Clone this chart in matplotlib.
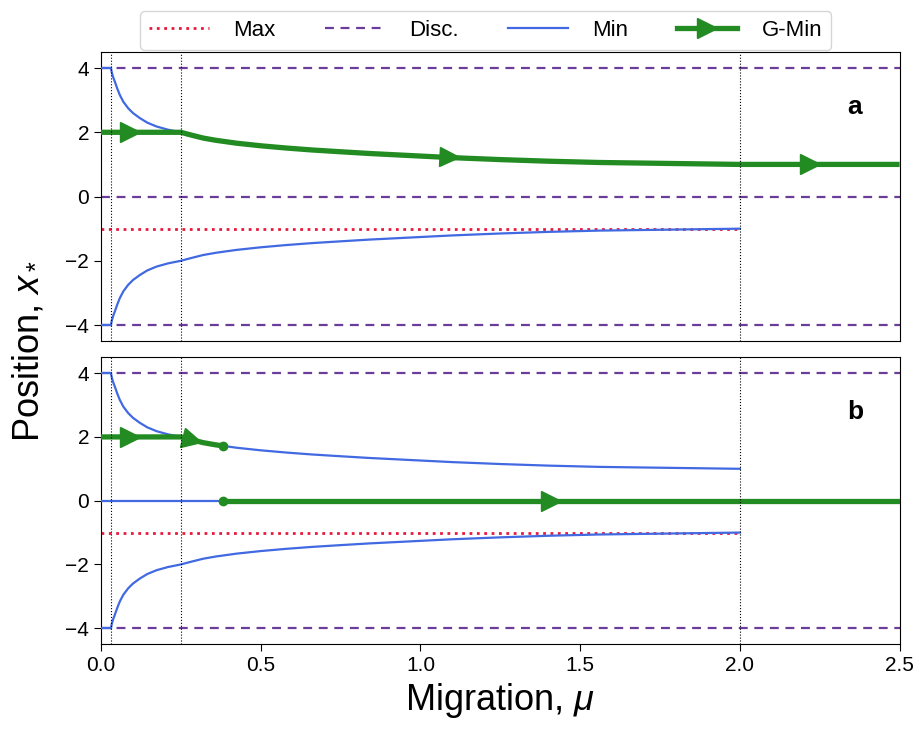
import numpy as np
import matplotlib
matplotlib.use("Agg")
import matplotlib.pyplot as plt
from matplotlib.lines import Line2D
from matplotlib.markers import MarkerStyle
from matplotlib.transforms import Affine2D

plt.rcParams['font.family'] = ['Liberation Sans', 'DejaVu Sans']
plt.rcParams['mathtext.fontset'] = 'custom'
plt.rcParams['mathtext.rm'] = 'Liberation Sans'
plt.rcParams['mathtext.it'] = 'Liberation Sans:italic'

# ---- data ----
mu_curve = [0.031, 0.034, 0.038, 0.044, 0.051, 0.059, 0.070, 0.085, 0.100, 0.122, 0.145, 0.174,
            0.21, 0.25, 0.28, 0.32, 0.36, 0.425, 0.50, 0.58, 0.66, 0.74, 0.84, 0.94, 1.1,
            1.25, 1.4, 1.56, 1.78, 2.0]
x_curve = [4.0, 3.86, 3.72, 3.56, 3.36, 3.16, 2.95, 2.75, 2.60, 2.44, 2.30, 2.18,
           2.08, 2.0, 1.92, 1.82, 1.75, 1.66, 1.58, 1.51, 1.45, 1.40, 1.34, 1.29, 1.21,
           1.15, 1.10, 1.06, 1.03, 1.0]
mu_start = 0.031        # first threshold (blue leaves the boundary)
mu_mid = 0.25           # second threshold
mu_end = 2.0            # third threshold
mu_max = 2.5
x_disc = [4, 0, -4]
x_max = -1.0
x_plateau = 2.0
mu_bif = 0.383          # panel b jump point
x_bif = 1.72
arrows_a = [(0.09, 2.0), (1.09, 1.22), (2.22, 1.0)]
arrows_b_upper = [(0.09, 2.0), (0.284, 1.91)]
arrows_b_lower = [(1.41, 0.0)]

RED = '#e8193c'
PURPLE = '#6a3d9a'
BLUE = '#4169e1'
GREEN = '#228b22'

fig = plt.figure(figsize=(9.18, 7.32), dpi=100)
ax_a = fig.add_axes([0.110, 0.534, 0.870, 0.395])
ax_b = fig.add_axes([0.110, 0.120, 0.870, 0.392], sharex=ax_a)

mu_c = np.array(mu_curve)
x_c = np.array(x_curve)


def draw_arrows(ax, pts, path_x, path_y):
    px = np.array(path_x, float)
    py = np.array(path_y, float)
    for (xa, ya) in pts:
        i = np.searchsorted(px, xa)
        i = min(max(i, 1), len(px) - 1)
        p0 = ax.transData.transform((px[i - 1], py[i - 1]))
        p1 = ax.transData.transform((px[i], py[i]))
        ang = np.degrees(np.arctan2(p1[1] - p0[1], p1[0] - p0[0]))
        m = MarkerStyle('>', transform=Affine2D().rotate_deg(ang))
        ax.plot([xa], [ya], marker=m, ms=14, color=GREEN, mec=GREEN, ls='none', zorder=6)


for ax in (ax_a, ax_b):
    ax.set_xlim(0, mu_max)
    ax.set_ylim(-4.5, 4.5)
    ax.set_yticks([-4, -2, 0, 2, 4])
    ax.tick_params(labelsize=15, direction='out', length=5)
    for v in (mu_start, mu_mid, mu_end):
        ax.axvline(v, color='black', ls=':', lw=0.8, zorder=7)
    ax.plot([0, mu_end], [x_max, x_max], color=RED, ls=':', lw=2, zorder=2)
    # blue minima branches
    ax.plot([0, mu_start], [4, 4], color=BLUE, lw=1.6, zorder=3)
    ax.plot([0, mu_start], [-4, -4], color=BLUE, lw=1.6, zorder=3)
    ax.plot(mu_c, x_c, color=BLUE, lw=1.6, zorder=3)
    ax.plot(mu_c, -x_c, color=BLUE, lw=1.6, zorder=3)

# panel a
for xd in x_disc:
    ax_a.plot([0, mu_max], [xd, xd], color=PURPLE, ls='--', lw=1.6, dashes=(4, 3), zorder=1)
ga_x = [0] + [m for m in mu_curve if m >= mu_mid] + [mu_max]
ga_y = [x_plateau] + [x for m, x in zip(mu_curve, x_curve) if m >= mu_mid] + [x_curve[-1]]
ax_a.plot(ga_x, ga_y, color=GREEN, lw=3.8, zorder=5, solid_capstyle='butt')
ax_a.tick_params(labelbottom=False, bottom=False)
ax_a.text(0.944, 0.81, 'a', transform=ax_a.transAxes, fontsize=19, fontweight='bold',
          ha='center', va='center')

# panel b
for xd in (x_disc[0], x_disc[2]):
    ax_b.plot([0, mu_max], [xd, xd], color=PURPLE, ls='--', lw=1.6, dashes=(4, 3), zorder=1)
ax_b.plot([0, mu_bif], [0, 0], color=BLUE, lw=1.6, zorder=3)
gb_x = [0] + [m for m in mu_curve if mu_mid <= m < mu_bif] + [mu_bif]
gb_y = [x_plateau] + [x for m, x in zip(mu_curve, x_curve) if mu_mid <= m < mu_bif] + [x_bif]
ax_b.plot(gb_x, gb_y, color=GREEN, lw=3.8, zorder=5, solid_capstyle='butt')
ax_b.plot([mu_bif], [x_bif], 'o', color=GREEN, ms=6, zorder=6)
ax_b.plot([mu_bif, mu_max], [0, 0], color=GREEN, lw=3.8, zorder=5, solid_capstyle='butt')
ax_b.plot([mu_bif], [0], 'o', color=GREEN, ms=6, zorder=6)
ax_b.text(0.944, 0.81, 'b', transform=ax_b.transAxes, fontsize=19, fontweight='bold',
          ha='center', va='center')
ax_b.set_xticks([0.0, 0.5, 1.0, 1.5, 2.0, 2.5])
ax_b.set_xlabel(r'Migration, $\mu$', fontsize=26, labelpad=4)

fig.canvas.draw()
draw_arrows(ax_a, arrows_a, ga_x, ga_y)
draw_arrows(ax_b, arrows_b_upper, gb_x, gb_y)
draw_arrows(ax_b, arrows_b_lower, [mu_bif, mu_max], [0, 0])

fig.text(0.03, 0.52, r'Position, $x_*$', rotation=90, fontsize=26, ha='center', va='center')

handles = [
    Line2D([], [], color=RED, ls=':', lw=2),
    Line2D([], [], color=PURPLE, ls='--', lw=1.6, dashes=(4, 3)),
    Line2D([], [], color=BLUE, lw=1.6),
    Line2D([], [], color=GREEN, lw=3.8, marker='>', ms=14),
]
labels = ['Max', 'Disc.', 'Min', 'G-Min']
fig.legend(handles, labels, loc='upper center', bbox_to_anchor=(0.529, 1.0), ncol=4,
           fontsize=16, handlelength=2.7, handletextpad=1.1, columnspacing=2.2,
           borderpad=0.4, frameon=True)

fig.savefig('out.png', dpi=100)
